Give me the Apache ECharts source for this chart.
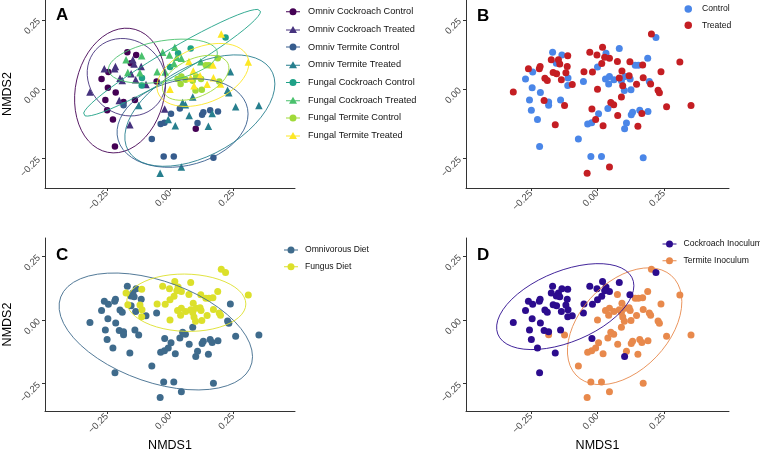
<!DOCTYPE html>
<html><head><meta charset="utf-8">
<script src="https://cdn.jsdelivr.net/npm/echarts@6/dist/echarts.min.js"></script>
<style>html,body{margin:0;padding:0;background:#fff}#c{width:760px;height:455px}</style>
</head><body><div id="c"></div>
<script>
// ---------- data (NMDS1, NMDS2) ----------
const xTicks = [-0.25, 0, 0.25];
const yTicks = [-0.25, 0, 0.25];
const xRange = [-0.495, 0.495];
const yRange = [-0.357, 0.322];

const omnivCockroachControl = [[-0.169,0.133],[-0.134,0.123],[-0.155,0.094],[-0.244,0.062],[-0.271,0.037],[-0.053,0.028],[-0.246,0.005],[-0.215,-0.012],[-0.256,-0.039],[-0.249,-0.076],[-0.226,-0.110],[-0.184,-0.046],[-0.139,-0.039],[-0.218,-0.207],[0.102,-0.143]];
const omnivCockroachTreated = [[-0.147,0.106],[-0.142,0.091],[-0.216,0.082],[-0.219,0.074],[-0.260,0.074],[-0.198,0.039],[-0.189,0.031],[-0.154,0.056],[-0.114,0.082],[-0.136,0.034],[-0.095,0.017],[-0.317,-0.010],[-0.201,-0.041],[-0.159,-0.129],[-0.021,-0.072]];
const omnivTermiteControl = [[-0.184,-0.058],[-0.072,-0.180],[-0.037,-0.126],[-0.022,-0.121],[0.004,-0.089],[0.039,-0.070],[-0.025,-0.243],[0.015,-0.243],[0.127,-0.092],[0.132,-0.083],[0.109,-0.122],[0.159,-0.076],[0.190,-0.081],[0.172,-0.248]];
const omnivTermiteTreated = [[0.239,0.063],[0.228,-0.004],[0.233,-0.013],[-0.124,-0.059],[-0.007,-0.110],[0.021,-0.132],[0.050,-0.048],[0.061,-0.056],[0.090,-0.028],[0.076,-0.095],[0.167,-0.088],[0.152,-0.134],[0.260,-0.064],[0.352,-0.059],[0.045,-0.281],[-0.039,-0.304]];
const fungalCockroachControl = [[0.220,0.187],[0.082,0.147],[0.032,0.130],[0.000,0.080],[-0.111,0.040],[-0.112,0.013]];
const fungalCockroachTreated = [[0.122,0.099],[0.045,0.112],[0.027,0.115],[0.019,0.151],[0.016,0.093],[-0.002,0.123],[-0.029,0.133],[-0.019,0.062],[-0.051,0.063],[-0.112,0.121],[-0.174,0.106],[-0.167,0.060],[-0.119,0.059]];
const fungalTermiteControl = [[0.189,0.112],[0.142,0.086],[0.154,0.086],[0.030,0.037],[0.045,0.046],[0.042,0.019],[0.062,0.034],[0.090,0.030],[0.104,0.046],[0.123,0.037],[0.101,-0.005],[0.126,-0.002],[0.195,0.028]];
const fungalTermiteTreated = [[0.203,0.199],[0.310,0.098],[0.170,0.087],[0.075,0.100],[0.092,0.066],[0.082,0.040],[0.119,0.048],[0.147,0.018],[0.172,0.041],[0.200,0.019],[0.000,0.000],[0.095,0.012]];

const groupNames = ['Omniv Cockroach Control','Omniv Cockroach Treated','Omniv Termite Control','Omniv Termite Treated','Fungal Cockroach Control','Fungal Cockroach Treated','Fungal Termite Control','Fungal Termite Treated'];
const groupData = [omnivCockroachControl, omnivCockroachTreated, omnivTermiteControl, omnivTermiteTreated, fungalCockroachControl, fungalCockroachTreated, fungalTermiteControl, fungalTermiteTreated];
const groupColors = ['#440154','#46337E','#365C8D','#277F8E','#1FA187','#4AC16D','#A0DA39','#FDE725'];
const groupTreated = [false,true,false,true,false,true,false,true];

// ---------- stat_ellipse (type "t", level 0.95) ----------
function covTrob(pts, nu = 5, maxit = 25, tol = 0.01) {
  const n = pts.length, p = 2;
  let loc = [pts.reduce((s,q)=>s+q[0],0)/n, pts.reduce((s,q)=>s+q[1],0)/n];
  let w = new Array(n).fill(1), X;
  for (let it = 0; it < maxit; it++) {
    const w0 = w.slice();
    X = pts.map(q => [q[0]-loc[0], q[1]-loc[1]]);
    const sw = w.reduce((s,v)=>s+v,0);
    let a=0,b=0,c=0;
    for (let i=0;i<n;i++){a+=w[i]*X[i][0]*X[i][0];b+=w[i]*X[i][0]*X[i][1];c+=w[i]*X[i][1]*X[i][1];}
    a/=sw;b/=sw;c/=sw;
    const det=a*c-b*b;
    w = X.map(v => (nu+p)/(nu + (v[0]*v[0]*c - 2*v[0]*v[1]*b + v[1]*v[1]*a)/det));
    const sw2 = w.reduce((s,v)=>s+v,0);
    loc = [pts.reduce((s,q,i)=>s+w[i]*q[0],0)/sw2, pts.reduce((s,q,i)=>s+w[i]*q[1],0)/sw2];
    if (w.every((v,i)=>Math.abs(v-w0[i])<tol)) break;
  }
  let a=0,b=0,c=0;
  for (let i=0;i<n;i++){a+=w[i]*X[i][0]*X[i][0];b+=w[i]*X[i][0]*X[i][1];c+=w[i]*X[i][1]*X[i][1];}
  return {center: loc, cov: [a/n, b/n, c/n]};
}
function ellipse(pts) {
  const {center, cov} = covTrob(pts);
  const m = pts.length - 1;
  const f = (m/2)*(Math.pow(0.05, -2/m) - 1);
  const r = Math.sqrt(2*f);
  const A = Math.sqrt(cov[0]), B = cov[1]/A, C = Math.sqrt(Math.max(cov[2]-B*B,0));
  const out = [];
  for (let k = 0; k <= 51; k++) {
    const t = 2*Math.PI*k/51;
    out.push([center[0] + r*Math.cos(t)*A, center[1] + r*(Math.cos(t)*B + Math.sin(t)*C)]);
  }
  return out;
}

// ---------- helpers ----------
const FONT = 'Liberation Sans, Arial, Helvetica, sans-serif';
const fmt = v => (v < 0 ? '\u2212' : '') + Math.abs(v).toFixed(2);
const grids = [
  {left:45, top:0, width:250, height:188},
  {left:466, top:0, width:263, height:188},
  {left:45, top:238, width:250, height:173},
  {left:466, top:238, width:263, height:173}
];
function xAx(i, name) {
  return {type:'value', gridIndex:i, min:xRange[0], max:xRange[1], splitLine:{show:false},
    axisLine:{show:true, onZero:false, lineStyle:{color:'#333', width:1}},
    axisTick:{show:true, customValues:xTicks, length:3, lineStyle:{color:'#333'}},
    axisLabel:{customValues:xTicks, rotate:45, formatter:fmt, color:'#4d4d4d', fontSize:9.5, margin:4},
    name:name||'', nameLocation:'middle', nameGap:27, nameTextStyle:{fontSize:12.5, color:'#000'}};
}
function yAx(i, name) {
  return {type:'value', gridIndex:i, min:yRange[0], max:yRange[1], splitLine:{show:false},
    axisLine:{show:true, onZero:false, lineStyle:{color:'#333', width:1}},
    axisTick:{show:true, customValues:yTicks, length:3, lineStyle:{color:'#333'}},
    axisLabel:{customValues:yTicks, rotate:45, formatter:fmt, color:'#4d4d4d', fontSize:9.5, margin:6},
    name:name||'', nameLocation:'middle', nameGap:31, nameTextStyle:{fontSize:12.5, color:'#000'}};
}
const ICON_C = 'path://M0,3 L14,3 L14,4 L0,4 Z M3.5,3.5 A3.5,3.5 0 1,1 10.5,3.5 A3.5,3.5 0 1,1 3.5,3.5 Z';
const ICON_T = 'path://M0,4 L14,4 L14,5 L0,5 Z M7,0.5 L11,7.5 L3,7.5 Z';

const series = [];
function addPanel(gi, names, datas, colors, opts) {
  datas.forEach((d, k) => {
    series.push({type:'scatter', name:names[k], xAxisIndex:gi, yAxisIndex:gi, data:d,
      symbol: opts.symbols ? opts.symbols[k] : 'circle',
      symbolSize: opts.symbols && opts.symbols[k]==='triangle' ? 7.5 : (opts.size||6.5),
      itemStyle:{color:colors[k], opacity:1}, z:3});
  });
  if (opts.ellipses) datas.forEach((d, k) => {
    series.push({type:'line', name:'ell-'+names[k], xAxisIndex:gi, yAxisIndex:gi, data:ellipse(d),
      showSymbol:false, symbol:'none', lineStyle:{color:colors[k], width:0.9}, z:4, silent:true});
  });
}

// Panel A
addPanel(0, groupNames, groupData, groupColors, {ellipses:true, symbols:groupTreated.map(t=>t?'triangle':'circle')});
// Panel B
const controlPts = groupData.filter((d,i)=>!groupTreated[i]).flat();
const treatedPts = groupData.filter((d,i)=>groupTreated[i]).flat();
addPanel(1, ['Control','Treated'], [controlPts, treatedPts], ['#4A86E8','#C41E23'], {size:7});
// Panel C
const omnivPts = groupData.slice(0,4).flat();
const fungusPts = groupData.slice(4,8).flat();
addPanel(2, ['Omnivorous Diet','Fungus Diet'], [omnivPts, fungusPts], ['#3F6B8C','#DCE02B'], {ellipses:true, size:7});
// Panel D
const cockroachPts = [omnivCockroachControl, omnivCockroachTreated, fungalCockroachControl, fungalCockroachTreated].flat();
const termitePts = [omnivTermiteControl, omnivTermiteTreated, fungalTermiteControl, fungalTermiteTreated].flat();
addPanel(3, ['Termite Inoculum','Cockroach Inoculum'], [termitePts, cockroachPts], ['#E8894C','#2C0C8E'], {ellipses:true, size:7});

const legBase = {orient:'vertical', padding:0, itemWidth:14, itemHeight:7, selectedMode:false,
  textStyle:{fontSize:8.6, lineHeight:10, color:'#111', padding:[0,0,0,2]}};

const option = {
  animation:false,
  textStyle:{fontFamily:FONT},
  grid: grids,
  xAxis: [xAx(0), xAx(1), xAx(2,'NMDS1'), xAx(3,'NMDS1')],
  yAxis: [yAx(0,'NMDS2'), yAx(1), yAx(2,'NMDS2'), yAx(3)],
  title: [
    {text:'A', left:56, top:7},
    {text:'B', left:477, top:8},
    {text:'C', left:56, top:247},
    {text:'D', left:477, top:247}
  ].map(t => Object.assign(t, {padding:0, textStyle:{fontSize:17, fontWeight:'bold', color:'#000', fontFamily:FONT}})),
  legend: [
    Object.assign({}, legBase, {left:286, top:6.7, itemGap:7.7,
      textStyle:{fontSize:9.2, lineHeight:10, color:'#111', padding:[0,0,0,3]},
      data: groupNames.map((n,i)=>({name:n, icon: groupTreated[i]?ICON_T:ICON_C}))}),
    Object.assign({}, legBase, {left:684.5, top:4, itemGap:6.3, itemWidth:7.5, itemHeight:7.5,
      textStyle:{fontSize:8.6, lineHeight:10, color:'#111', padding:[0,0,0,5]},
      data:[{name:'Control', icon:'circle'},{name:'Treated', icon:'circle'}]}),
    Object.assign({}, legBase, {left:284, top:245, itemGap:6.7,
      data:[{name:'Omnivorous Diet', icon:ICON_C},{name:'Fungus Diet', icon:ICON_C}]}),
    Object.assign({}, legBase, {left:662.5, top:239, itemGap:6.7,
      data:[{name:'Cockroach Inoculum', icon:ICON_C},{name:'Termite Inoculum', icon:ICON_C}]})
  ],
  series: series
};
const chart = echarts.init(document.getElementById('c'), null, {renderer:'canvas'});
chart.setOption(option);
</script>
</body></html>
